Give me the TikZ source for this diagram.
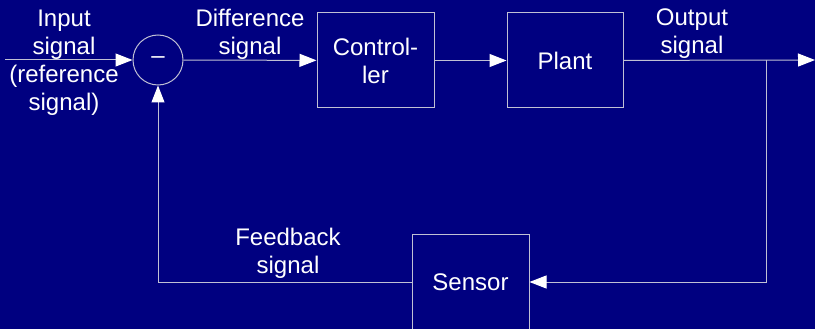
\documentclass[tikz,border=0pt]{standalone}
\usepackage{fontspec}
\setmainfont{Liberation Sans}
\usepackage{xcolor}
\usetikzlibrary{arrows.meta}
\definecolor{bgnavy}{RGB}{0,0,128}
\definecolor{wire}{RGB}{192,192,212}

\begin{document}
\begin{tikzpicture}[x=1pt,y=-1pt,font=\fontsize{24}{28}\selectfont,
  blk/.style={draw=wire,line width=1pt,rectangle,text=white,align=center,minimum width=117pt,minimum height=95pt,inner sep=0pt},
  sumc/.style={draw=wire,line width=1pt,circle,text=white,minimum size=50pt,inner sep=0pt},
  lbl/.style={text=white,align=center,inner sep=0pt},
  arr/.style={draw=wire,line width=1pt,-{Triangle[length=17pt,width=13pt,color=white]}}]
\useasboundingbox[fill=bgnavy] (0,0) rectangle (815,329);
% blocks
\node[sumc] (sum) at (158,60) {\raisebox{-3pt}{--}};
\node[blk] (ctrl) at (375.5,60.5) {Control-\\ler};
\node[blk,minimum width=116pt] (plant) at (565,60.5) {Plant};
\node[blk,minimum height=96pt] (sensor) at (470.5,282) {Sensor};
\coordinate (in) at (5,60);
\coordinate (out) at (815,60);
\coordinate (tap) at (766,60);
% labels
\node[lbl] (inlbl) at (64,62.5) {Input\\signal\\(reference\\signal)};
\node[lbl] (difflbl) at (250,34) {Difference\\signal};
\node[lbl] (outlbl) at (692,34) {Output\\signal};
\node[lbl] (fblbl) at (288,253) {Feedback\\signal};
% connectors
\draw[arr] (in) -- (sum);
\draw[arr] (sum) -- (ctrl);
\draw[arr] (ctrl) -- (plant);
\draw[arr] (plant) -- (out);
\draw[arr] (tap) |- (sensor);
\draw[arr] (sensor) -| (sum);
\end{tikzpicture}
\end{document}
